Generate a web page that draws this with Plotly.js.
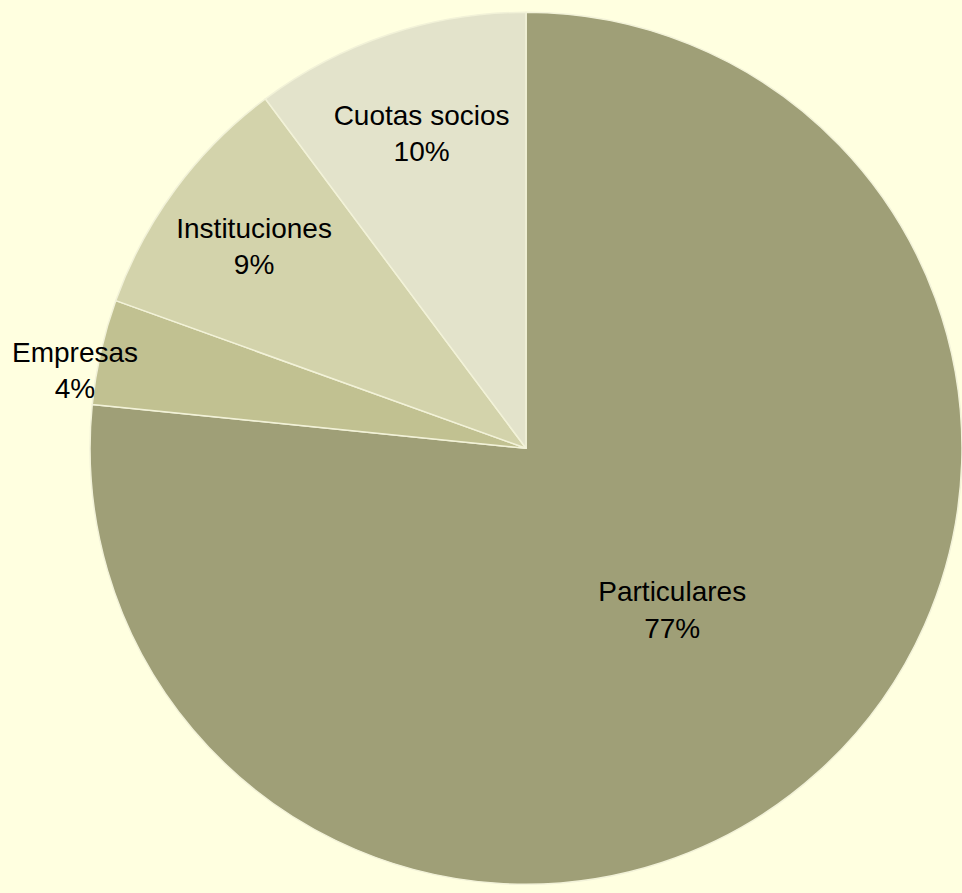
<!DOCTYPE html>
<html>
<head>
<meta charset="utf-8">
<script src="https://cdn.plot.ly/plotly-3.0.1.min.js"></script>
<style>html,body{margin:0;padding:0;background:#FFFFE0;}#chart{width:962px;height:893px;}</style>
</head>
<body>
<div id="chart"></div>
<script>
var categories = ['Particulares', 'Empresas', 'Instituciones', 'Cuotas socios'];
var shares = [76.6, 3.9, 9.3, 10.2];
var sliceColors = ['#9F9F77', '#C1C191', '#D3D3AB', '#E3E3CB'];
// Empresas label is drawn as an annotation beside the pie (as in the reference)
var textPositions = ['inside', 'none', 'inside', 'inside'];

var fontFamily = 'Liberation Sans, Arial, sans-serif';
var total = shares.reduce(function (a, b) { return a + b; }, 0);

var trace = {
  type: 'pie',
  labels: categories,
  values: shares,
  sort: false,
  direction: 'clockwise',
  rotation: 0,
  marker: {colors: sliceColors, line: {color: '#F2F2D8', width: 1.5}},
  texttemplate: '%{label}<br>%{percent:.0%}',
  textposition: textPositions,
  insidetextorientation: 'horizontal',
  textfont: {family: fontFamily, size: 28, color: '#000000'},
  domain: {x: [0.0936, 1], y: [0.009, 0.987]},
  showlegend: false,
  hoverinfo: 'label+percent'
};

var layout = {
  width: 962,
  height: 893,
  margin: {l: 0, r: 0, t: 0, b: 0},
  paper_bgcolor: '#FFFFE0',
  plot_bgcolor: '#FFFFE0',
  showlegend: false,
  annotations: [{
    xref: 'paper', yref: 'paper',
    x: 0.078, y: 0.585,
    xanchor: 'center', yanchor: 'middle',
    showarrow: false,
    align: 'center',
    text: categories[1] + '<br>' + Math.round(shares[1] / total * 100) + '%',
    font: {family: fontFamily, size: 28, color: '#000000'}
  }]
};

Plotly.newPlot('chart', [trace], layout, {displayModeBar: false, staticPlot: true});
</script>
</body>
</html>
